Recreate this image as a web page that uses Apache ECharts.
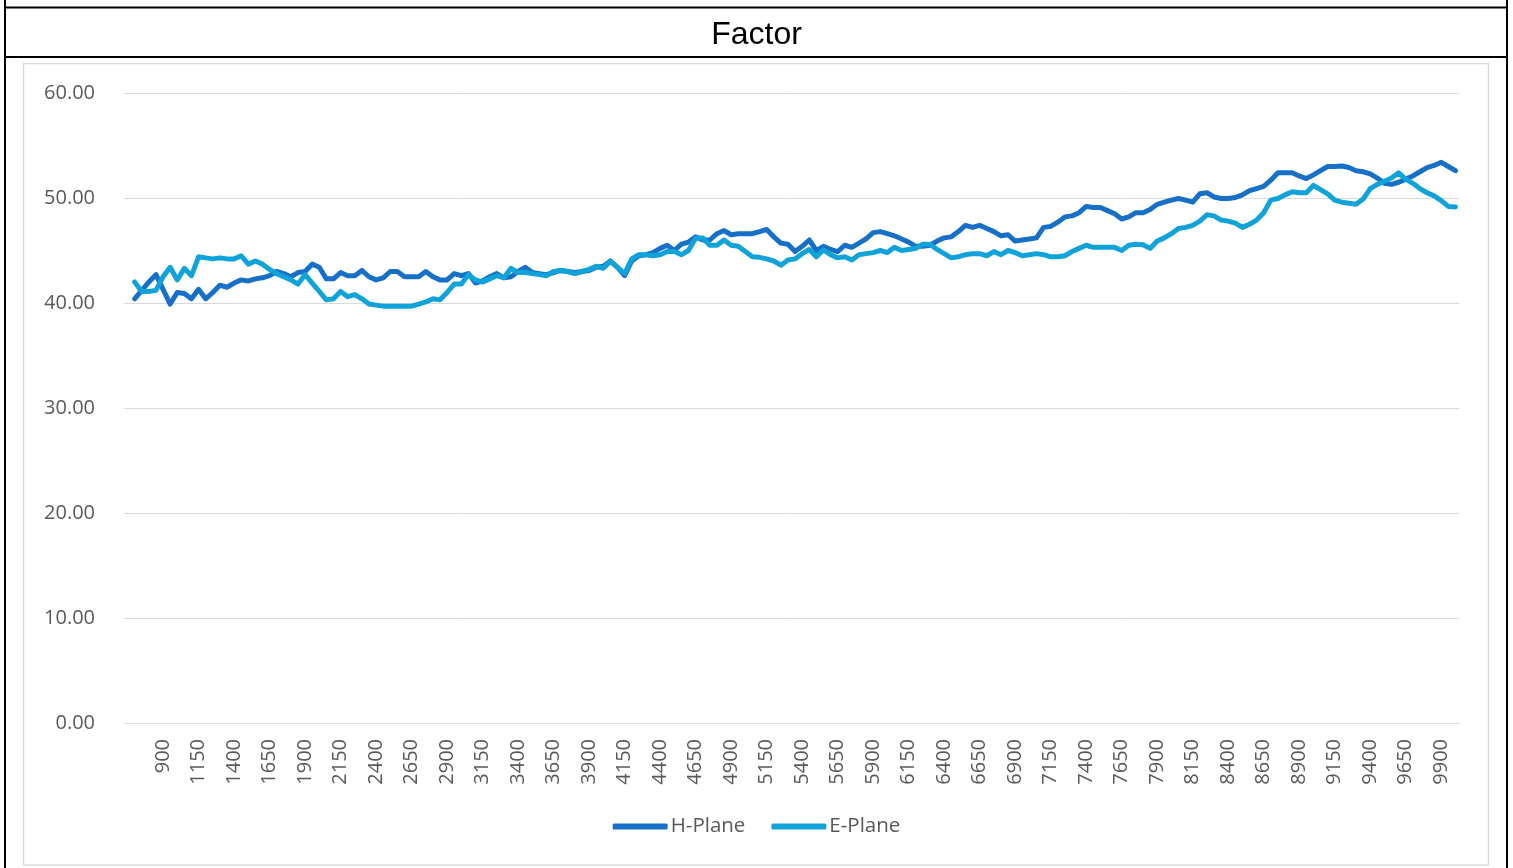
<!DOCTYPE html>
<html>
<head>
<meta charset="utf-8">
<script src="https://cdn.jsdelivr.net/npm/echarts@6/dist/echarts.min.js"></script>
<style>
html,body{margin:0;padding:0;background:#fff;}
#chart{width:1513px;height:868px;}
</style>
</head>
<body>
<div id="chart"></div>
<script>
// Frequency categories (first slot is an empty category, as in the source sheet)
const categories = ['',
 700,750,800,850,900,950,1000,1050,1100,1150,
 1200,1250,1300,1350,1400,1450,1500,1550,1600,1650,
 1700,1750,1800,1850,1900,1950,2000,2050,2100,2150,
 2200,2250,2300,2350,2400,2450,2500,2550,2600,2650,
 2700,2750,2800,2850,2900,2950,3000,3050,3100,3150,
 3200,3250,3300,3350,3400,3450,3500,3550,3600,3650,
 3700,3750,3800,3850,3900,3950,4000,4050,4100,4150,
 4200,4250,4300,4350,4400,4450,4500,4550,4600,4650,
 4700,4750,4800,4850,4900,4950,5000,5050,5100,5150,
 5200,5250,5300,5350,5400,5450,5500,5550,5600,5650,
 5700,5750,5800,5850,5900,5950,6000,6050,6100,6150,
 6200,6250,6300,6350,6400,6450,6500,6550,6600,6650,
 6700,6750,6800,6850,6900,6950,7000,7050,7100,7150,
 7200,7250,7300,7350,7400,7450,7500,7550,7600,7650,
 7700,7750,7800,7850,7900,7950,8000,8050,8100,8150,
 8200,8250,8300,8350,8400,8450,8500,8550,8600,8650,
 8700,8750,8800,8850,8900,8950,9000,9050,9100,9150,
 9200,9250,9300,9350,9400,9450,9500,9550,9600,9650,
 9700,9750,9800,9850,9900,9950,10000
].map(String);

const hPlane = [null,
 40.4,41.2,42.0,42.7,41.3,39.9,41.0,40.9,40.4,41.3,
 40.4,41.0,41.7,41.5,41.9,42.2,42.1,42.3,42.4,42.6,
 43.0,42.8,42.5,42.9,43.0,43.7,43.4,42.3,42.3,42.9,
 42.6,42.6,43.1,42.5,42.2,42.4,43.0,43.0,42.5,42.5,
 42.5,43.0,42.5,42.2,42.2,42.8,42.6,42.8,41.9,42.1,
 42.5,42.8,42.4,42.5,43.0,43.4,42.9,42.8,42.7,42.9,
 43.1,43.0,42.9,43.0,43.1,43.4,43.5,44.0,43.4,42.6,
 44.0,44.5,44.6,44.8,45.2,45.5,45.0,45.6,45.8,46.3,
 46.0,46.0,46.6,46.9,46.5,46.6,46.6,46.6,46.8,47.0,
 46.3,45.7,45.6,44.9,45.4,46.0,45.0,45.4,45.1,44.9,
 45.5,45.3,45.7,46.1,46.7,46.8,46.6,46.4,46.1,45.8,
 45.4,45.4,45.5,45.9,46.2,46.3,46.8,47.4,47.2,47.4,
 47.1,46.8,46.4,46.5,45.9,46.0,46.1,46.2,47.2,47.3,
 47.7,48.2,48.3,48.6,49.2,49.1,49.1,48.8,48.5,48.0,
 48.2,48.6,48.6,48.9,49.4,49.6,49.8,49.95,49.8,49.6,
 50.4,50.5,50.1,49.95,49.95,50.05,50.3,50.7,50.9,51.1,
 51.7,52.4,52.4,52.4,52.1,51.85,52.2,52.6,53.0,53.0,
 53.05,52.9,52.6,52.5,52.3,51.9,51.4,51.3,51.5,51.8,
 52.1,52.5,52.9,53.1,53.4,53.0,52.6
];

const ePlane = [null,
 42.0,41.1,41.1,41.2,42.5,43.4,42.2,43.3,42.6,44.4,
 44.3,44.2,44.3,44.2,44.2,44.5,43.7,44.0,43.7,43.2,
 42.8,42.5,42.2,41.8,42.7,41.9,41.1,40.3,40.4,41.1,
 40.6,40.8,40.4,39.9,39.8,39.7,39.7,39.7,39.7,39.7,
 39.9,40.1,40.4,40.3,41.0,41.8,41.8,42.7,42.2,42.0,
 42.3,42.6,42.4,43.3,42.9,42.9,42.8,42.7,42.6,43.0,
 43.1,43.0,42.8,43.0,43.2,43.5,43.3,44.0,43.4,42.8,
 44.2,44.6,44.6,44.5,44.6,44.9,44.9,44.6,45.0,46.2,
 46.2,45.5,45.5,46.0,45.5,45.4,44.9,44.4,44.35,44.2,
 44.0,43.6,44.1,44.2,44.7,45.1,44.4,45.05,44.6,44.3,
 44.4,44.1,44.6,44.7,44.8,45.0,44.8,45.3,45.0,45.1,
 45.2,45.6,45.6,45.1,44.7,44.3,44.4,44.6,44.7,44.7,
 44.5,44.9,44.6,45.0,44.8,44.5,44.6,44.7,44.6,44.4,
 44.4,44.5,44.9,45.2,45.5,45.3,45.3,45.3,45.3,45.0,
 45.5,45.6,45.55,45.2,45.9,46.2,46.6,47.1,47.2,47.4,
 47.8,48.4,48.3,47.9,47.8,47.6,47.2,47.5,47.9,48.6,
 49.8,49.95,50.3,50.6,50.5,50.5,51.2,50.8,50.4,49.8,
 49.6,49.5,49.4,49.9,50.9,51.3,51.6,51.9,52.4,51.8,
 51.4,50.9,50.5,50.2,49.75,49.2,49.15
];

const seriesNames = ['H-Plane', 'E-Plane'];
const titleText = 'Factor';
const yTicks = {min: 0, max: 60, interval: 10};

const chart = echarts.init(document.getElementById('chart'), null, {renderer: 'canvas'});
const labelFont = '"Open Sans", "Noto Sans", sans-serif';
const grayText = '#595959';

chart.setOption({
  animation: false,
  backgroundColor: '#ffffff',
  color: ['#1670c7', '#10a3da'],
  title: {
    text: titleText,
    left: 'center',
    top: 14,
    textStyle: {fontFamily: '"Liberation Sans", Arial, sans-serif', fontSize: 32, fontWeight: 'normal', color: '#000'}
  },
  graphic: [
    {type: 'rect', silent: true, z: -1, shape: {x: 23.5, y: 63.5, width: 1465, height: 801.5},
     style: {fill: 'none', stroke: '#d9d9d9', lineWidth: 1.5}},
    {type: 'line', silent: true, shape: {x1: 5, y1: 0, x2: 5, y2: 868}, style: {stroke: '#000', lineWidth: 2}},
    {type: 'line', silent: true, shape: {x1: 1507, y1: 0, x2: 1507, y2: 868}, style: {stroke: '#000', lineWidth: 2}},
    {type: 'line', silent: true, shape: {x1: 4, y1: 7.5, x2: 1508, y2: 7.5}, style: {stroke: '#000', lineWidth: 2}},
    {type: 'line', silent: true, shape: {x1: 4, y1: 57, x2: 1508, y2: 57}, style: {stroke: '#000', lineWidth: 2}}
  ],
  legend: {
    data: seriesNames,
    bottom: 26,
    left: 'center',
    icon: 'roundRect',
    itemWidth: 55,
    itemHeight: 6,
    itemGap: 26,
    textStyle: {fontFamily: labelFont, fontSize: 20.5, color: grayText, padding: [0, 0, 0, -2]}
  },
  grid: {left: 124, right: 54, top: 93, bottom: 145, containLabel: false},
  xAxis: {
    type: 'category',
    data: categories,
    boundaryGap: true,
    axisLine: {show: true, lineStyle: {color: '#d9d9d9', width: 1}},
    axisTick: {show: false},
    axisLabel: {interval: 4, rotate: 90, margin: 16, color: grayText, fontFamily: labelFont, fontSize: 20}
  },
  yAxis: {
    type: 'value',
    min: yTicks.min,
    max: yTicks.max,
    interval: yTicks.interval,
    axisLine: {show: false},
    axisTick: {show: false},
    splitLine: {lineStyle: {color: '#d9d9d9', width: 1}},
    axisLabel: {margin: 29, color: grayText, fontFamily: labelFont, fontSize: 20,
      formatter: v => v.toFixed(2)}
  },
  series: [
    {name: seriesNames[0], type: 'line', data: hPlane, showSymbol: false, symbol: 'none',
     lineStyle: {width: 5, cap: 'round', join: 'round'}, z: 2},
    {name: seriesNames[1], type: 'line', data: ePlane, showSymbol: false, symbol: 'none',
     lineStyle: {width: 5, cap: 'round', join: 'round'}, z: 3}
  ]
});
</script>
</body>
</html>
